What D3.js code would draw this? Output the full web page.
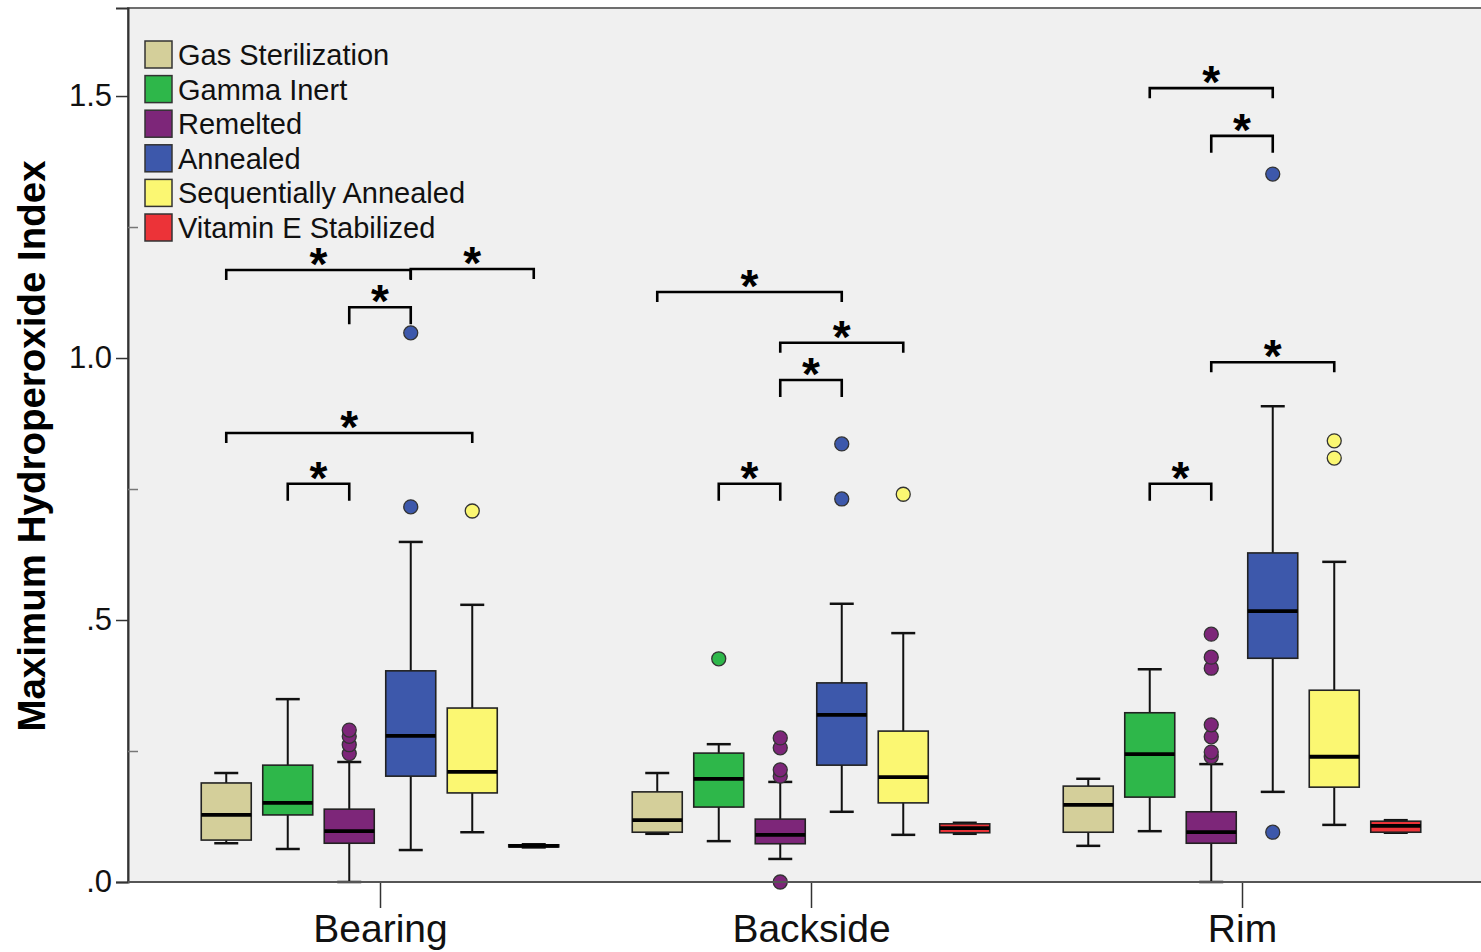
<!DOCTYPE html>
<html lang="en">
<head>
<meta charset="utf-8">
<title>Maximum Hydroperoxide Index</title>
<script src="https://cdn.jsdelivr.net/npm/d3@7"></script>
<style>
  body { margin: 0; background: #fff; }
  text { font-family: "Liberation Sans", Arial, sans-serif; }
</style>
</head>
<body>
<script>
// data
var groups = ["Bearing", "Backside", "Rim"];
var treatments = ["Gas Sterilization", "Gamma Inert", "Remelted", "Annealed", "Sequentially Annealed", "Vitamin E Stabilized"];
var colors = ["#d4cf9a", "#2eb74a", "#7d2679", "#3d58ab", "#fbf772", "#ec3338"];

// [low whisker, q1, median, q3, high whisker] per treatment
var bearingBoxes = [
  [0.074, 0.080, 0.128, 0.189, 0.208],
  [0.063, 0.128, 0.151, 0.223, 0.349],
  [0.000, 0.074, 0.097, 0.139, 0.229],
  [0.061, 0.202, 0.279, 0.403, 0.649],
  [0.095, 0.170, 0.210, 0.332, 0.529],
  [0.066, 0.067, 0.069, 0.071, 0.072]
];
var backsideBoxes = [
  [0.092, 0.095, 0.118, 0.172, 0.208],
  [0.078, 0.143, 0.197, 0.246, 0.263],
  [0.044, 0.073, 0.090, 0.120, 0.191],
  [0.134, 0.223, 0.319, 0.380, 0.531],
  [0.090, 0.151, 0.200, 0.288, 0.475],
  [0.092, 0.094, 0.103, 0.111, 0.113]
];
var rimBoxes = [
  [0.069, 0.095, 0.147, 0.183, 0.197],
  [0.097, 0.162, 0.244, 0.323, 0.406],
  [0.000, 0.074, 0.095, 0.134, 0.225],
  [0.172, 0.427, 0.517, 0.628, 0.908],
  [0.109, 0.181, 0.239, 0.366, 0.611],
  [0.094, 0.095, 0.107, 0.116, 0.118]
];

var bearingOutliers = [[], [], [0.245, 0.262, 0.278, 0.290], [0.716, 1.048], [0.708], []];
var backsideOutliers = [[], [0.426], [0.000, 0.202, 0.214, 0.256, 0.275], [0.731, 0.836], [0.740], []];
var rimOutliers = [[], [], [0.239, 0.248, 0.277, 0.300, 0.408, 0.429, 0.473], [0.095, 1.351], [0.809, 0.842], []];

// significance brackets: [from treatment, to treatment, level]
var bearingBrackets = [[0, 3, 1.168], [3, 5, 1.170], [2, 3, 1.097], [0, 4, 0.857], [1, 2, 0.760]];
var backsideBrackets = [[0, 3, 1.126], [2, 4, 1.029], [2, 3, 0.958], [1, 2, 0.760]];
var rimBrackets = [[1, 3, 1.515], [2, 3, 1.424], [2, 4, 0.992], [1, 2, 0.760]];

var yTicks = [0, 0.5, 1.0, 1.5];
var yMinorTicks = [0.25, 0.75, 1.25];

var boxes = [bearingBoxes, backsideBoxes, rimBoxes];
var outliers = [bearingOutliers, backsideOutliers, rimOutliers];
var brackets = [bearingBrackets, backsideBrackets, rimBrackets];

var w = 1481, h = 952;
var plotLeft = 128, plotTop = 8, plotBottom = 882;

var svg = d3.select("body").append("svg").attr("width", w).attr("height", h);

var y = d3.scaleLinear().domain([0, 1.668]).range([plotBottom, plotTop]);
var xg = d3.scalePoint().domain(groups).range([380, 1242]);
var xt = d3.scalePoint().domain(d3.range(treatments.length)).range([-153.75, 153.75]);
var bw = 50;

// plot background
svg.append("rect")
  .attr("x", plotLeft).attr("y", plotTop)
  .attr("width", w - plotLeft + 10).attr("height", plotBottom - plotTop)
  .attr("fill", "#f0f0f0")
  .attr("stroke", "#6e6e6e").attr("stroke-width", 2);

// boxes
groups.forEach(function(g, gi) {
  var gEl = svg.append("g").attr("transform", "translate(" + xg(g) + ",0)");
  boxes[gi].forEach(function(b, ti) {
    var cx = xt(ti);
    var el = gEl.append("g");
    el.append("line")
      .attr("x1", cx).attr("x2", cx).attr("y1", y(b[0])).attr("y2", y(b[4]))
      .attr("stroke", "#111").attr("stroke-width", 2);
    [b[0], b[4]].forEach(function(v) {
      el.append("line")
        .attr("x1", cx - 12).attr("x2", cx + 12).attr("y1", y(v)).attr("y2", y(v))
        .attr("stroke", "#111").attr("stroke-width", 2.5);
    });
    el.append("rect")
      .attr("x", cx - bw / 2).attr("y", y(b[3]))
      .attr("width", bw).attr("height", Math.max(y(b[1]) - y(b[3]), 1))
      .attr("fill", colors[ti]).attr("stroke", "#222").attr("stroke-width", 1.6);
    el.append("line")
      .attr("x1", cx - bw / 2).attr("x2", cx + bw / 2).attr("y1", y(b[2])).attr("y2", y(b[2]))
      .attr("stroke", "#000").attr("stroke-width", 3.8);
    el.selectAll("circle")
      .data(outliers[gi][ti])
      .enter()
      .append("circle")
      .attr("cx", cx).attr("cy", function(d) { return y(d) })
      .attr("r", 7)
      .attr("fill", colors[ti]).attr("stroke", "#333").attr("stroke-width", 1.3);
  });

  // brackets
  brackets[gi].forEach(function(br) {
    var x1 = xt(br[0]), x2 = xt(br[1]), ly = y(br[2]);
    var leg = (br[1] - br[0] == 1) ? 17 : 10;
    gEl.append("path")
      .attr("d", "M" + x1 + "," + (ly + leg) + "V" + ly + "H" + x2 + "V" + (ly + leg))
      .attr("fill", "none").attr("stroke", "#000").attr("stroke-width", 2.6);
    gEl.append("text")
      .attr("x", (x1 + x2) / 2).attr("y", ly + 10)
      .attr("text-anchor", "middle")
      .attr("font-size", "46px").attr("font-weight", "bold")
      .text("*");
  });
});

// y axis
var yAxis = d3.axisLeft(y).tickValues(yTicks).tickSize(12).tickPadding(4)
  .tickFormat(function(d) { return d3.format(".1f")(d).replace(/^0/, "") });
var ya = svg.append("g").attr("transform", "translate(" + plotLeft + ",0)").call(yAxis);
ya.select(".domain").attr("stroke", "#333").attr("stroke-width", 2);
ya.selectAll(".tick line").attr("stroke", "#333").attr("stroke-width", 1.5);
ya.selectAll(".tick text").attr("font-size", "31px").attr("fill", "#111")
  .attr("font-family", "'Liberation Sans', Arial, sans-serif");

var yMinor = d3.axisRight(y).tickValues(yMinorTicks).tickSize(10).tickFormat("");
var ym = svg.append("g").attr("transform", "translate(" + plotLeft + ",0)").call(yMinor);
ym.select(".domain").remove();
ym.selectAll(".tick line").attr("stroke", "#777").attr("stroke-width", 1.5);

// x axis
var xAxis = d3.axisBottom(xg).tickSize(26).tickPadding(6);
var xa = svg.append("g").attr("transform", "translate(0," + plotBottom + ")").call(xAxis);
xa.select(".domain").remove();
xa.selectAll(".tick line").attr("stroke", "#333").attr("stroke-width", 1.5);
xa.selectAll(".tick text").attr("font-size", "39px").attr("fill", "#111")
  .attr("font-family", "'Liberation Sans', Arial, sans-serif");
svg.append("line")
  .attr("x1", plotLeft).attr("x2", w).attr("y1", plotBottom).attr("y2", plotBottom)
  .attr("stroke", "#555").attr("stroke-width", 2);

// y title
svg.append("text")
  .attr("transform", "translate(45,446) rotate(-90)")
  .attr("text-anchor", "middle")
  .attr("font-size", "38.5px").attr("font-weight", "bold")
  .text("Maximum Hydroperoxide Index");

// legend
var legend = svg.append("g").attr("transform", "translate(145,41)");
treatments.forEach(function(t, i) {
  var row = legend.append("g").attr("transform", "translate(0," + (i * 34.6) + ")");
  row.append("rect")
    .attr("width", 27).attr("height", 27)
    .attr("fill", colors[i]).attr("stroke", "#333").attr("stroke-width", 1.5);
  row.append("text")
    .attr("x", 33).attr("y", 24)
    .attr("font-size", "29px").attr("fill", "#111")
    .text(t);
});
</script>
</body>
</html>
